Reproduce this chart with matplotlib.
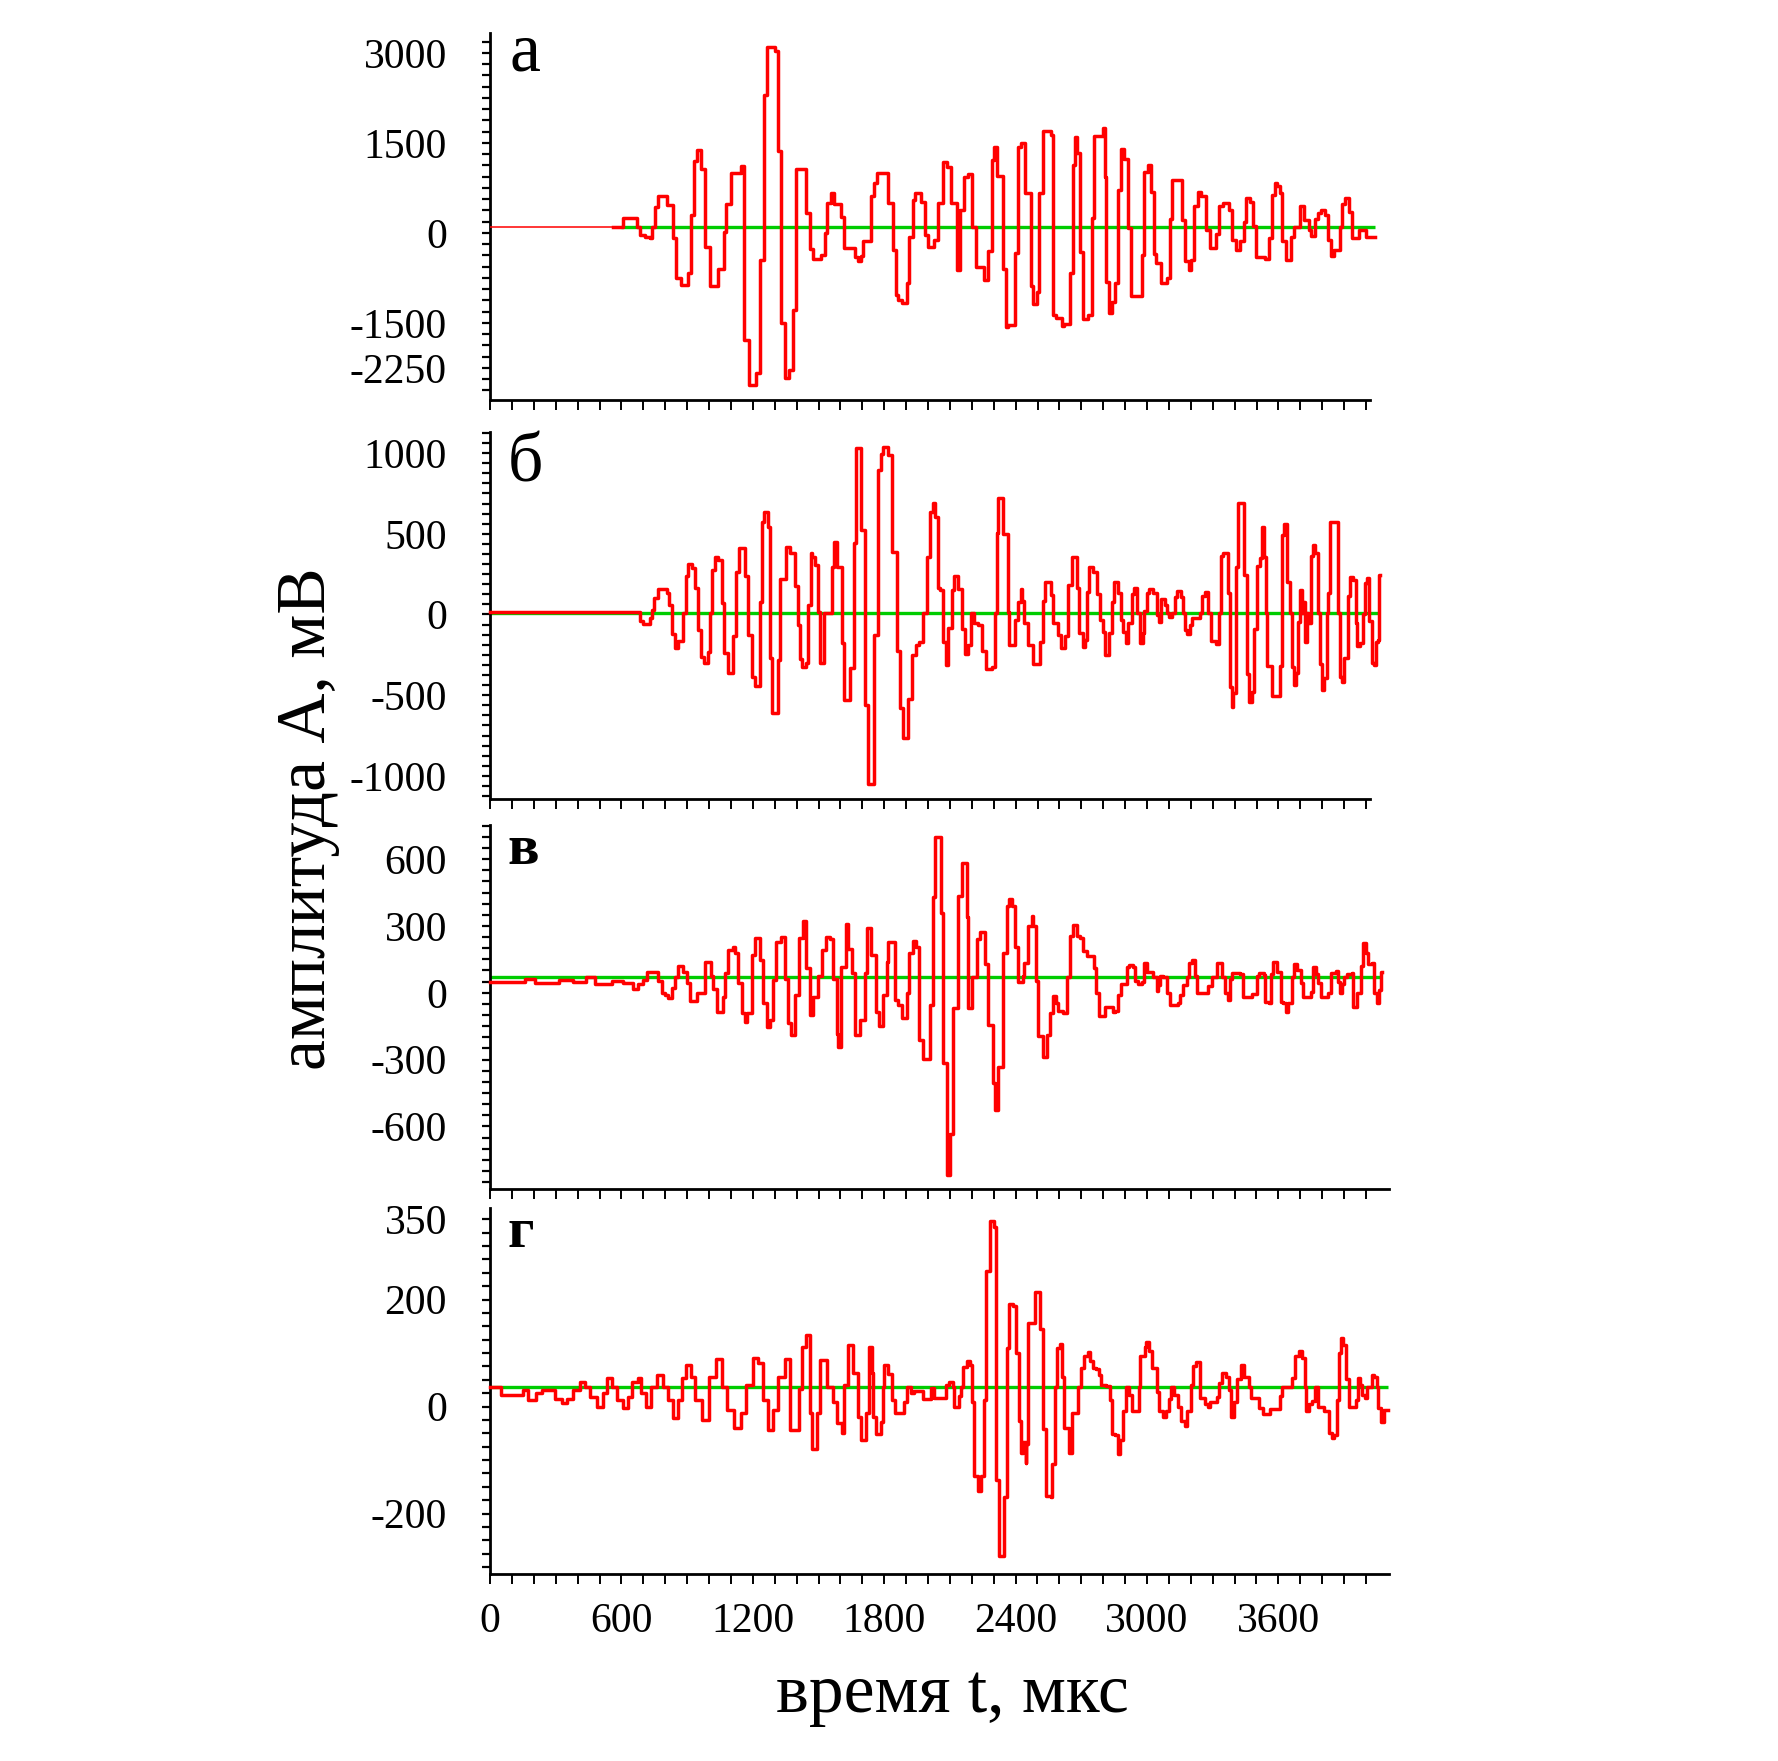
import numpy as np
import matplotlib
matplotlib.use("Agg")
from matplotlib import pyplot as plt
from matplotlib.ticker import MultipleLocator, FixedLocator

plt.rcParams['font.family'] = ['Liberation Serif', 'DejaVu Serif']
plt.rcParams['axes.unicode_minus'] = False

# step signals: start time of each level (мкс) and level (мВ)
a_t = [0, 608, 669, 684, 707, 730, 740, 753, 768, 806, 836, 851, 871, 905, 917, 932, 947, 962, 981, 1003,
       1041, 1069, 1079, 1099, 1145, 1158, 1181, 1216, 1234, 1251, 1266, 1300, 1315, 1327, 1348, 1365, 1383,
       1399, 1444, 1459, 1475, 1513, 1528, 1540, 1555, 1573, 1604, 1616, 1665, 1680, 1695, 1704, 1738, 1753,
       1768, 1817, 1839, 1855, 1865, 1880, 1905, 1915, 1931, 1941, 1966, 1984, 1999, 2029, 2045, 2067, 2087,
       2105, 2133, 2148, 2166, 2181, 2200, 2219, 2257, 2273, 2291, 2301, 2316, 2344, 2356, 2367, 2397, 2409,
       2423, 2443, 2468, 2481, 2496, 2508, 2526, 2560, 2572, 2584, 2610, 2620, 2648, 2660, 2671, 2681, 2693,
       2709, 2731, 2747, 2757, 2800, 2807, 2815, 2827, 2838, 2853, 2868, 2879, 2894, 2914, 2929, 2975, 2985,
       3005, 3020, 3032, 3043, 3066, 3089, 3104, 3116, 3162, 3172, 3192, 3203, 3213, 3233, 3248, 3268, 3286,
       3317, 3329, 3347, 3374, 3390, 3408, 3423, 3441, 3453, 3469, 3484, 3499, 3541, 3557, 3572, 3583, 3593,
       3605, 3618, 3633, 3659, 3669, 3700, 3719, 3739, 3750, 3765, 3780, 3795, 3811, 3826, 3841, 3856, 3879,
       3891, 3906, 3922, 3937, 3970, 4001, 4039]
a_v = [105, 245, 105, -34, -62, -90, 105, 438, 622, 466, -90, -756, -867, -673, 299, 1200, 1383, 1061, -228, -884,
       -606, 22, 477, 994, 1116, -1784, -2534, -2340, -451, 2300, 3105, 3039, 1372, -1495, -2423, -2284, -1284,
       1061, 327, -267, -440, -367, -6, 494, 672, 483, 272, -256, -395, -462, -384, -128, 616, 838,
       1005, 505, -284, -1034, -1117, -1173, -840, -62, 550, 672, 522, -34, -228, -117, 494, 1188, 1105,
       505, -617, 383, 938, 983, 105, -562, -784, -295, 1216, 1438, 955, -606, -1562, -1534, -328, 1427,
       1505, 672, -884, -1184, -978, 672, 1705, 1633, -1367, -1423, -1551, -1517, -662, 1133, 1594, 1338, -312,
       -1440, -1367, 244, 1616, 1755, 927, -812, -1329, -1145, -840, 716, 1394, 1227, 77, -1051, -367, 1011,
       1133, 688, -351, -506, -829, -756, 227, 883, 216, -462, -617, -451, 450, 677, 616, 50, -256,
       -17, 450, 505, 383, -117, -284, -128, 188, 588, 522, 116, -395, -440, -90, 633, 827, 783,
       672, -128, -451, -62, 105, 450, 216, 50, -50, 227, 327, 383, 299, -117, -384, -284, 94,
       477, 577, 355, -90, 50, -62, -62]

b_t = [0, 685, 700, 731, 738, 751, 769, 807, 818, 833, 845, 860, 883, 894, 903, 924, 936, 948, 964, 979, 994,
       1005, 1015, 1028, 1043, 1061, 1070, 1088, 1111, 1122, 1137, 1165, 1180, 1195, 1210, 1233, 1241, 1253,
       1268, 1279, 1289, 1314, 1324, 1350, 1370, 1393, 1405, 1416, 1426, 1442, 1454, 1464, 1472, 1484, 1499,
       1507, 1527, 1563, 1572, 1583, 1606, 1618, 1644, 1664, 1670, 1694, 1713, 1728, 1755, 1770, 1786, 1796,
       1816, 1834, 1857, 1872, 1888, 1910, 1926, 1944, 1959, 1979, 1994, 2009, 2025, 2032, 2044, 2055, 2070,
       2081, 2093, 2111, 2120, 2139, 2154, 2169, 2184, 2196, 2212, 2230, 2245, 2263, 2291, 2306, 2314, 2321,
       2344, 2367, 2371, 2397, 2412, 2423, 2431, 2440, 2455, 2481, 2511, 2523, 2534, 2560, 2572, 2595, 2606,
       2625, 2641, 2656, 2679, 2691, 2706, 2717, 2727, 2737, 2755, 2770, 2785, 2800, 2808, 2828, 2839, 2849,
       2869, 2881, 2892, 2902, 2915, 2933, 2941, 2956, 2968, 2980, 2988, 2998, 3011, 3029, 3044, 3056, 3062,
       3082, 3093, 3102, 3112, 3128, 3135, 3154, 3163, 3173, 3184, 3196, 3204, 3242, 3249, 3265, 3280, 3291,
       3315, 3330, 3338, 3348, 3371, 3379, 3386, 3394, 3406, 3417, 3443, 3458, 3467, 3478, 3488, 3501, 3516,
       3526, 3534, 3543, 3549, 3569, 3607, 3615, 3625, 3638, 3653, 3660, 3671, 3680, 3691, 3698, 3706, 3714,
       3721, 3729, 3736, 3747, 3756, 3767, 3782, 3790, 3797, 3810, 3820, 3828, 3835, 3873, 3881, 3892, 3899,
       3919, 3927, 3942, 3954, 3960, 3972, 3988, 3995, 4006, 4013, 4026, 4036, 4045, 4056, 4061, 4066]
b_v = [13, -38, -59, -24, 28, 100, 156, 131, 59, -121, -210, -162, 7, 239, 313, 286, 162, -96, -265, -302, -230,
       11, 276, 354, 338, 73, -241, -360, -133, 265, 410, 241, -127, -389, -443, 80, 575, 637,
       544, -272, -612, -282, 218, 416, 383, 177, -65, -278, -327, -302, 59, 383, 354, 307, 18,
       -302, 11, 296, 451, 296, -179, -530, -334, 441, 1029, 523, -561, -1050, -127, 895, 994, 1036,
       988, 389, -224, -581, -767, -526, -251, -189, -168, 11, 358, 637, 689, 602, 162, 152, -168,
       -313, -86, 152, 239, 156, -92, -245, -189, 11, -51, -65, -224, -340, -323, 11, 503, 720,
       499, 18, -189, -34, 80, 156, 86, -55, -189, -307, -168, 86, 203, 121, -51, -127, -210,
       -133, 183, 358, 162, -113, -199, -158, 141, 292, 265, 127, -34, -106, -251, -117, 80, 203,
       135, -34, -106, -179, -51, 125, 162, 11, -174, -113, 24, 131, 156, 131, -3, -44, 94,
       59, 11, -18, 11, 110, 148, 110, 11, -96, -121, -65, -24, 11, 115, 141, 7, -162,
       -183, 11, 362, 383, 131, -447, -575, -488, 296, 693, 245, -369, -540, -478, -92, 300, 348,
       540, 354, 11, -319, -505, -319, 493, 559, 203, 11, -327, -437, -360, -44, 152, 11, 80,
       -168, 11, -55, 362, 431, 379, 7, -307, -468, -395, 11, 131, 575, 11, -385, -416, -272,
       115, 234, 214, -55, -195, -174, 3, 193, 224, -38, -302, -313, -168, -158, 245, 245]

c_t = [0, 160, 205, 315, 380, 440, 480, 555, 609, 654, 677, 700, 715, 768, 784, 799, 814, 829, 844, 860, 883,
       898, 913, 943, 981, 1007, 1019, 1035, 1062, 1073, 1088, 1108, 1118, 1134, 1149, 1164, 1175, 1195, 1210,
       1233, 1248, 1263, 1278, 1293, 1306, 1331, 1347, 1362, 1373, 1392, 1412, 1427, 1443, 1461, 1476, 1499,
       1514, 1534, 1552, 1567, 1583, 1590, 1601, 1625, 1636, 1651, 1666, 1689, 1712, 1720, 1742, 1762, 1777,
       1796, 1811, 1819, 1849, 1864, 1879, 1902, 1914, 1933, 1945, 1960, 1975, 2009, 2024, 2032, 2058, 2070,
       2085, 2100, 2115, 2138, 2153, 2176, 2184, 2199, 2222, 2237, 2260, 2275, 2298, 2306, 2321, 2341, 2359,
       2371, 2382, 2397, 2409, 2432, 2440, 2458, 2473, 2481, 2493, 2504, 2523, 2545, 2557, 2572, 2584, 2595,
       2618, 2636, 2648, 2660, 2682, 2694, 2709, 2724, 2758, 2767, 2782, 2808, 2843, 2854, 2869, 2881, 2907,
       2919, 2934, 2945, 2960, 2976, 2986, 2998, 3029, 3044, 3052, 3059, 3074, 3090, 3105, 3143, 3151, 3166,
       3181, 3193, 3204, 3219, 3227, 3265, 3280, 3295, 3318, 3341, 3356, 3371, 3379, 3386, 3425, 3440, 3478,
       3501, 3513, 3534, 3539, 3558, 3565, 3574, 3595, 3610, 3622, 3635, 3645, 3660, 3671, 3683, 3701, 3714,
       3747, 3759, 3771, 3782, 3793, 3828, 3839, 3863, 3874, 3881, 3889, 3899, 3915, 3934, 3942, 3957, 3975,
       3988, 4000, 4011, 4026, 4036, 4049, 4061, 4067, 4071]
c_v = [49, 60, 42, 58, 48, 70, 40, 54, 42, 15, 39, 57, 94, 54, 0, -10, -25, 20, 72, 120, 94,
       45, -36, -3, 136, 75, 19, -85, -18, 87, 192, 204, 177, 45, -90, -130, -90, 169, 244,
       147, -45, -153, -120, 57, 229, 249, 60, -135, -190, -10, 244, 323, 109, -100, -18, 75,
       192, 249, 240, 64, -183, -245, 117, 308, 195, 87, -190, -123, 87, 289, 169, -85, -150,
       -10, 139, 229, -33, -55, -115, -3, 177, 234, 207, -212, -299, -55, 431, 701, 356, -317,
       -819, -632, -70, 434, 584, 341, -70, 72, 240, 274, 129, -145, -407, -527, -335, 180, 389,
       419, 389, 207, 49, 75, 132, 299, 344, 299, 54, -195, -287, -190, -90, -15, -48, -81,
       -93, 72, 255, 304, 255, 244, 189, 165, 109, -3, -105, -66, -85, -81, -10, 39, 114,
       124, 117, 54, 39, 49, 132, 94, 72, 9, 34, 75, 72, 0, -55, -45, -10, 34,
       72, 135, 147, 75, 0, -3, 30, 72, 135, 72, 0, -33, 64, 90, 84, -18, -6,
       75, 87, 79, -40, -45, 84, 139, 94, -40, -48, -85, -48, 69, 129, 102, 42, -18,
       4, 117, 84, 42, -21, -3, 90, 99, 49, 0, 39, 72, 84, 90, -66, -3, 120,
       225, 177, 129, 132, -3, -48, 12, 94, 94]

d_t = [0, 50, 149, 174, 211, 236, 298, 329, 350, 381, 412, 434, 458, 489, 514, 536, 557, 582, 607, 628, 650,
       675, 690, 712, 736, 761, 792, 814, 835, 860, 876, 897, 916, 937, 968, 999, 1030, 1061, 1082, 1113,
       1144, 1169, 1200, 1225, 1246, 1268, 1293, 1317, 1348, 1370, 1410, 1425, 1441, 1463, 1472, 1493, 1509,
       1540, 1565, 1586, 1608, 1617, 1633, 1657, 1679, 1694, 1719, 1731, 1743, 1751, 1763, 1785, 1794, 1800,
       1816, 1836, 1851, 1890, 1903, 1921, 1937, 1976, 2015, 2027, 2084, 2095, 2115, 2120, 2142, 2151, 2162,
       2178, 2193, 2201, 2209, 2229, 2244, 2255, 2266, 2282, 2302, 2310, 2325, 2348, 2359, 2372, 2387, 2403,
       2415, 2426, 2434, 2446, 2449, 2457, 2488, 2512, 2527, 2539, 2561, 2566, 2581, 2589, 2605, 2612, 2623,
       2643, 2659, 2685, 2698, 2713, 2729, 2741, 2752, 2768, 2779, 2788, 2814, 2830, 2838, 2856, 2866, 2876,
       2892, 2903, 2918, 2931, 2962, 2970, 2990, 2996, 3008, 3024, 3047, 3055, 3071, 3086, 3099, 3109, 3125,
       3140, 3156, 3172, 3182, 3203, 3210, 3226, 3244, 3265, 3280, 3288, 3319, 3331, 3342, 3363, 3373, 3384,
       3397, 3412, 3428, 3443, 3467, 3474, 3513, 3529, 3560, 3606, 3617, 3661, 3676, 3695, 3707, 3720, 3726,
       3738, 3754, 3769, 3782, 3808, 3832, 3847, 3855, 3866, 3875, 3886, 3897, 3909, 3922, 3953, 3964, 3974,
       3984, 3995, 4006, 4026, 4037, 4052, 4057, 4068, 4083, 4100]
d_v = [37, 22, 31, 13, 25, 30, 15, 6, 15, 30, 46, 37, 18, 0, 26, 53, 37, 13, -3, 18, 46,
       54, 25, 0, 37, 59, 37, 12, -22, 12, 53, 78, 56, 12, -25, 56, 88, 37, -6, -41,
       -13, 40, 90, 81, 12, -44, -6, 56, 88, -44, 32, 112, 134, -13, -80, -13, 87,
       37, 9, -31, -50, 40, 115, 62, -19, -63, -13, 112, 62, -19, -52, -28, 36, 78,
       61, 13, -12, 9, 37, 25, 29, 14, 34, 16, 41, 45, 36, 0, 19, 36, 74,
       85, 78, 9, -129, -158, -129, 13, 254, 347, 335, -137, -280, -170, 109, 191, 187, 100,
       -27, -87, -67, -106, -70, 156, 215, 145, -42, -168, -170, -108, 36, 109, 117, 56, -40,
       -87, -12, 37, 72, 94, 102, 85, 72, 70, 58, 41, 39, 13, -52, -53, -89, -62,
       -9, 37, 22, -9, 37, 94, 112, 120, 103, 72, 28, -9, -19, -9, 14, 36, 22,
       0, -27, -37, -9, 41, 75, 83, 16, 4, 0, 9, 17, 44, 62, 56, 31, -19,
       9, 52, 78, 56, 36, 16, -3, -14, -4, 19, 37, 53, 94, 103, 90, 36, -8,
       4, 11, 37, 0, -9, -50, -59, -53, 13, 100, 128, 115, 52, 0, 13, 54, 41,
       22, 16, 37, 59, 56, 37, -3, -28, -6, -6]

panels = [
    dict(t=a_t, v=a_v, base=105, base_from=600, letter='а', bold=False,
         ylim=(-2783, 3333), xmax=4018, ticks=[3000, 1500, 0, -1500, -2250], minor=187.5,
         rect=[0.2756, 0.7729, 0.4949, 0.2084], lpos=(0.2868, 0.960)),
    dict(t=b_t, v=b_v, base=11, base_from=0, letter='б', bold=False,
         ylim=(-1143, 1133), xmax=4018, ticks=[1000, 500, 0, -500, -1000], minor=62.5,
         rect=[0.2756, 0.5463, 0.4949, 0.2086], lpos=(0.2855, 0.7263)),
    dict(t=c_t, v=c_v, base=70, base_from=0, letter='в', bold=True,
         ylim=(-881, 753), xmax=4105, ticks=[600, 300, 0, -300, -600], minor=50,
         rect=[0.2756, 0.3248, 0.5056, 0.2067], lpos=(0.2855, 0.5093)),
    dict(t=d_t, v=d_v, base=37, base_from=0, letter='г', bold=True,
         ylim=(-313, 371), xmax=4105, ticks=[350, 200, 0, -200], minor=25,
         rect=[0.2756, 0.1062, 0.5056, 0.2078], lpos=(0.2855, 0.2918)),
]

RED = '#ff0000'
GREEN = '#00cc00'
x_minor = np.arange(0, 4001, 100)

fig = plt.figure(figsize=(17.78, 17.61), dpi=100)

for i, p in enumerate(panels):
    ax = fig.add_axes(p['rect'])
    t = np.array(p['t'], dtype=float)
    v = np.array(p['v'], dtype=float)

    ax.plot([p['base_from'], t[-1]], [p['base'], p['base']], color=GREEN, lw=2.4,
            solid_capstyle='butt', zorder=2, clip_on=False)
    if i == 0:
        # quiet pre-trigger part is drawn with a thin line
        ax.plot([0, 560], [v[0], v[0]], color=RED, lw=1.1, zorder=3)
        m = t >= 560
        tt = np.concatenate([[560], t[m]])
        vv = np.concatenate([[v[0]], v[m]])
        ax.step(tt, vv, where='post', color=RED, lw=2.5, zorder=3, clip_on=False)
    else:
        ax.step(t, v, where='post', color=RED, lw=2.5, zorder=3, clip_on=False)

    ax.set_xlim(0, p['xmax'])
    ax.set_ylim(*p['ylim'])
    for s in ('top', 'right'):
        ax.spines[s].set_visible(False)
    for s in ('left', 'bottom'):
        ax.spines[s].set_linewidth(2.0)

    ax.xaxis.set_major_locator(MultipleLocator(600))
    ax.xaxis.set_minor_locator(FixedLocator(x_minor))
    ax.yaxis.set_major_locator(FixedLocator(p['ticks']))
    ax.yaxis.set_minor_locator(MultipleLocator(p['minor']))
    ax.tick_params(axis='x', which='both', direction='out', length=7.5, width=1.4, pad=13,
                   labelsize=30)
    ax.tick_params(axis='y', which='both', direction='out', length=6, width=1.6, pad=25,
                   labelsize=30)
    if i < 3:
        ax.tick_params(axis='x', labelbottom=False)

    fig.text(p['lpos'][0], p['lpos'][1], p['letter'], fontsize=42 if p['bold'] else 50,
             fontweight='bold' if p['bold'] else 'normal', va='baseline', ha='left')

fig.text(0.1734, 0.535, 'амплитуда А, мВ', fontsize=50, rotation=90, ha='center', va='center')
fig.text(0.5358, 0.0375, 'время t, мкс', fontsize=50, ha='center', va='center')

fig.savefig('out.png', dpi=100)
